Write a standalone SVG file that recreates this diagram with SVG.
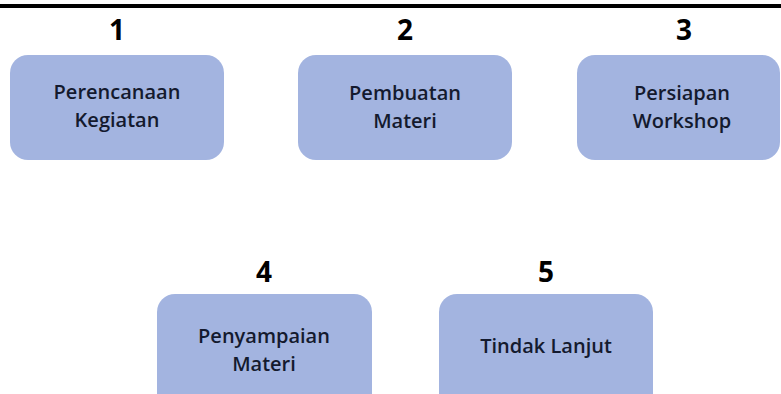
<svg xmlns="http://www.w3.org/2000/svg" width="781" height="394" viewBox="0 0 781 394">
  <style>
    .box { fill: #a3b4e0; }
    .num { font-family: "Open Sans", "Liberation Sans", sans-serif; font-weight: 700; font-size: 28px; fill: #000; text-anchor: middle; }
    .lbl { font-family: "Open Sans", "Liberation Sans", sans-serif; font-weight: 600; font-size: 20px; fill: #141a2e; text-anchor: middle; }
  </style>
  <rect width="781" height="394" fill="#ffffff"/>
  <!-- header rule -->
  <rect x="0" y="4" width="781" height="4" fill="#000"/>

  <g id="step1">
    <text class="num" x="117" y="40">1</text>
    <rect class="box" x="10" y="55" width="214" height="105" rx="18"/>
    <text class="lbl" x="117" y="99">Perencanaan</text>
    <text class="lbl" x="117" y="127">Kegiatan</text>
  </g>

  <g id="step2">
    <text class="num" x="405" y="40">2</text>
    <rect class="box" x="298" y="55" width="214" height="105" rx="18"/>
    <text class="lbl" x="405" y="100">Pembuatan</text>
    <text class="lbl" x="405" y="128">Materi</text>
  </g>

  <g id="step3">
    <text class="num" x="684" y="40">3</text>
    <rect class="box" x="577" y="55" width="203" height="105" rx="18"/>
    <text class="lbl" x="682" y="100">Persiapan</text>
    <text class="lbl" x="682" y="128">Workshop</text>
  </g>

  <g id="step4">
    <text class="num" x="264" y="282">4</text>
    <rect class="box" x="157" y="294" width="215" height="120" rx="18"/>
    <text class="lbl" x="264" y="343">Penyampaian</text>
    <text class="lbl" x="264" y="371">Materi</text>
  </g>

  <g id="step5">
    <text class="num" x="546" y="282">5</text>
    <rect class="box" x="439" y="294" width="214" height="120" rx="18"/>
    <text class="lbl" x="546" y="353">Tindak Lanjut</text>
  </g>

  <g id="connectors"></g>
</svg>
